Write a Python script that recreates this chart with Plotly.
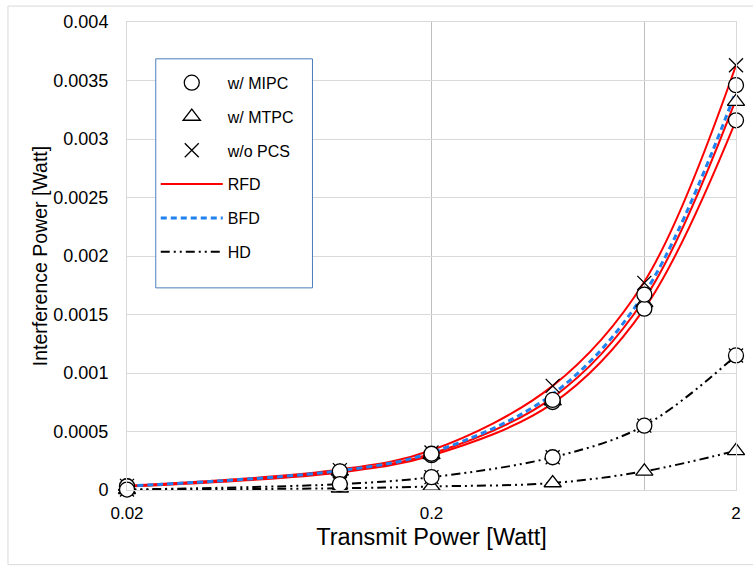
import math
import plotly.graph_objects as go

# Transmit power sweep (W)
tx_power = [0.02, 0.1, 0.2, 0.5, 1.0, 2.0]

# Analytical curves: interference power (W)
rfd_wo_pcs = [0.000036, 0.000175, 0.00034, 0.00089, 0.00178, 0.00363]
rfd_mtpc = [0.000033, 0.00016, 0.00031, 0.00079, 0.00163, 0.00334]
rfd_mipc = [0.00003, 0.00015, 0.000295, 0.00074, 0.00155, 0.00316]
bfd_curve = [0.000034, 0.000165, 0.00032, 0.00082, 0.00168, 0.00341]
hd_mipc = [0.000004, 0.00005, 0.00011, 0.00028, 0.00055, 0.00115]
hd_mtpc = [0.000002, 0.000015, 0.00003, 0.00006, 0.00016, 0.000335]

# Simulated points
sim_mipc_a = [0.00003, 0.00015, 0.000298, 0.000752, 0.00155, 0.00316]
sim_mipc_b = [0.000032, 0.00016, 0.00031, 0.00077, 0.00167, 0.00346]
sim_mipc_hd = [0.000004, 0.00005, 0.00011, 0.00028, 0.00055, 0.00115]
sim_mtpc_a = [0.00003, 0.00016, 0.0003, 0.00076, 0.0016, 0.00332]
sim_mtpc_hd = [0.000002, 0.000015, 0.00003, 0.00006, 0.00016, 0.000335]
sim_wo_pcs = [0.000035, 0.00017, 0.00032, 0.00089, 0.00177, 0.00363]
sim_wo_pcs_hd = [0.000004, 0.00005, 0.00011, 0.00028, 0.00055, 0.00115]

y_ticks = [0, 0.0005, 0.001, 0.0015, 0.002, 0.0025, 0.003, 0.0035, 0.004]
y_tick_text = ["0", "0.0005", "0.001", "0.0015", "0.002", "0.0025", "0.003", "0.0035", "0.004"]
x_ticks = [0.02, 0.2, 1, 2]
x_tick_text = ["0.02", "0.2", "", "2"]

RED = "#FF0000"
BLUE = "#1F82F0"
HD_DASH = "9px,4px,2px,4px,2px,4px"
FONT = "Liberation Sans, Arial, sans-serif"

fig = go.Figure()


def curve(y, color, dash, width, name, show, rank):
    fig.add_trace(go.Scatter(
        x=tx_power, y=y, mode="lines", name=name, showlegend=show,
        legendgroup=name, legendrank=rank, cliponaxis=False,
        line=dict(color=color, dash=dash, width=width, shape="spline", smoothing=1.0),
    ))


curve(hd_mipc, "black", HD_DASH, 2, "HD", True, 6)
curve(hd_mtpc, "black", HD_DASH, 2, "HD", False, 6)
curve(rfd_wo_pcs, RED, "solid", 2, "RFD", True, 4)
curve(rfd_mtpc, RED, "solid", 2, "RFD", False, 4)
curve(rfd_mipc, RED, "solid", 2, "RFD", False, 4)
curve(bfd_curve, BLUE, "6px,4px", 3, "BFD", True, 5)


def points(ys, symbol, size, name, rank, filled=True):
    xs, yv = [], []
    for y in ys:
        xs += tx_power
        yv += y
    fig.add_trace(go.Scatter(
        x=xs, y=yv, mode="markers", name=name, legendgroup=name, legendrank=rank,
        cliponaxis=False,
        marker=dict(symbol=symbol, size=size, color="white" if filled else "black",
                    line=dict(color="black", width=1.3)),
    ))


points([sim_mtpc_a, sim_mtpc_hd], "triangle-up", 15, "w/ MTPC", 2)
points([sim_wo_pcs, sim_wo_pcs_hd], "x-thin-open", 14, "w/o PCS", 3, filled=False)
points([sim_mipc_a, sim_mipc_b, sim_mipc_hd], "circle", 15, "w/ MIPC", 1)

L, R, T, B = 127, 12, 20, 77
W, H = 753, 567
pw, ph = W - L - R, H - T - B


def px_x(px):
    return (px - L) / pw


def px_y(py):
    return (H - B - py) / ph


fig.update_layout(
    width=W, height=H,
    margin=dict(l=L, r=R, t=T, b=B),
    paper_bgcolor="white", plot_bgcolor="white",
    font=dict(family=FONT, color="black", size=17),
    legend=dict(
        x=px_x(156), y=px_y(64), xanchor="left", yanchor="top",
        borderwidth=0, bgcolor="rgba(0,0,0,0)",
        font=dict(size=16, family=FONT), traceorder="grouped",
        tracegroupgap=10, itemwidth=62,
    ),
    shapes=[
        # outer chart frame
        dict(type="rect", xref="paper", yref="paper", layer="below",
             x0=px_x(7), x1=px_x(W + 10), y0=px_y(565), y1=px_y(4),
             line=dict(color="#D9D9D9", width=1)),
        # legend box
        dict(type="rect", xref="paper", yref="paper", layer="above",
             x0=px_x(156), x1=px_x(314), y0=px_y(287), y1=px_y(57),
             fillcolor="white", line=dict(color="#4A7EBB", width=1)),
    ],
)

# pad the log range a hair so the end points stay inside it
eps = 1e-5
fig.update_xaxes(
    type="log", range=[math.log10(0.02) - eps, math.log10(2) + eps],
    tickvals=x_ticks, ticktext=x_tick_text, ticks="",
    showgrid=True, gridcolor="#BFBFBF", gridwidth=1,
    showline=True, linecolor="#D9D9D9", mirror=True, zeroline=False,
    tickfont=dict(size=17), ticklabelstandoff=8,
    title=dict(text="Transmit Power [Watt]", font=dict(size=23.5), standoff=6),
)
fig.update_yaxes(
    range=[-1e-8, 0.004], tickvals=y_ticks, ticktext=y_tick_text, ticks="",
    showgrid=True, gridcolor="#D9D9D9", gridwidth=1,
    showline=True, linecolor="#D9D9D9", mirror=True, zeroline=False,
    tickfont=dict(size=18), ticklabelstandoff=14,
    title=dict(text="Interference Power [Watt]", font=dict(size=19.5), standoff=0),
)

fig.write_html("out.html")
